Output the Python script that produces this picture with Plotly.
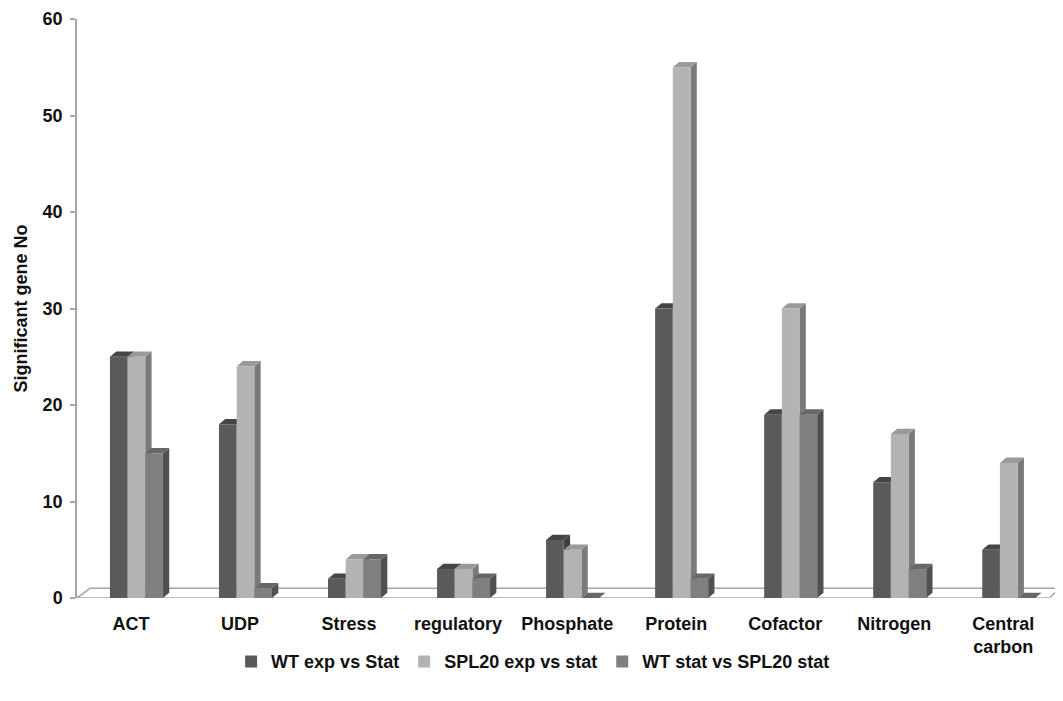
import plotly.graph_objects as go

categories = ["ACT", "UDP", "Stress", "regulatory", "Phosphate", "Protein",
              "Cofactor", "Nitrogen", "Central<br>carbon"]
series_names = ["WT exp vs Stat", "SPL20 exp vs stat", "WT stat vs SPL20 stat"]
wt_exp_vs_stat = [25, 18, 2, 3, 6, 30, 19, 12, 5]
spl20_exp_vs_stat = [25, 24, 4, 3, 5, 55, 30, 17, 14]
wt_stat_vs_spl20 = [15, 1, 4, 2, 0, 2, 19, 3, 0]
y_ticks = [0, 10, 20, 30, 40, 50, 60]

series_values = [wt_exp_vs_stat, spl20_exp_vs_stat, wt_stat_vs_spl20]
front_colors = ["#5a5a5a", "#b3b3b3", "#7f7f7f"]
side_colors = ["#3e3e3e", "#7a7a7a", "#505050"]
top_colors = ["#454545", "#9a9a9a", "#676767"]

bar_w = 0.162
offsets = [-0.193, -0.031, 0.131]
dx = 0.058   # depth in x units
dy = 0.55    # depth in y units

FONT = "Liberation Sans, Arial, sans-serif"

fig = go.Figure()
shapes = []

# floor
x_lo, x_hi = -0.495, 8.52
shapes.append(dict(type="path", xref="x", yref="y", layer="below",
                   path=f"M {x_lo},0 L {x_hi-0.1},0 L {x_hi},1.0 L {x_lo+0.12},1.0 Z",
                   fillcolor="white", line=dict(color="#a6a6a6", width=1.5)))

for s, (name, vals) in enumerate(zip(series_names, series_values)):
    xs = [i + offsets[s] + bar_w / 2 for i in range(len(categories))]
    fig.add_trace(go.Bar(
        x=xs, y=vals, width=bar_w, name=name,
        marker=dict(color=front_colors[s], line=dict(width=0)),
    ))
    for i, v in enumerate(vals):
        xl = i + offsets[s]
        xr = xl + bar_w
        shapes.append(dict(type="path", xref="x", yref="y", layer="below",
                           path=f"M {xr},0 L {xr+dx},{dy} L {xr+dx},{v+dy} L {xr},{v} Z",
                           fillcolor=side_colors[s], line=dict(width=0)))
        shapes.append(dict(type="path", xref="x", yref="y", layer="below",
                           path=f"M {xl},{v} L {xl+dx},{v+dy} L {xr+dx},{v+dy} L {xr},{v} Z",
                           fillcolor=top_colors[s], line=dict(width=0)))

fig.update_layout(
    width=1063, height=701,
    margin=dict(l=69, r=11, t=11, b=111),
    paper_bgcolor="white", plot_bgcolor="white",
    barmode="overlay",
    shapes=shapes,
    font=dict(family=FONT, size=18, color="black"),
    xaxis=dict(range=[x_lo, x_hi], tickmode="array",
               tickvals=list(range(len(categories))), ticktext=categories,
               showgrid=False, zeroline=False, showline=False, ticks="",
               automargin=False,
               tickfont=dict(family=FONT, size=18, color="#111111", weight="bold"),
               ticklabelstandoff=13),
    yaxis=dict(range=[0, 60], tickmode="array", tickvals=y_ticks,
               showgrid=False, zeroline=False, showline=True,
               linecolor="#a6a6a6", linewidth=1.5,
               ticks="outside", ticklen=5, tickcolor="#a6a6a6", tickwidth=1.5,
               automargin=False,
               tickfont=dict(family=FONT, size=18, color="#111111", weight="bold"),
               ticklabelstandoff=4, ticklabeloverflow="allow",
               title=dict(text="Significant gene No", standoff=10,
                          font=dict(family=FONT, size=18, color="#111111", weight="bold"))),
    legend=dict(orientation="h", x=0.464, xanchor="center", y=-0.11, yanchor="middle",
                font=dict(family=FONT, size=18, color="#111111", weight="bold"),
                itemwidth=30, traceorder="normal"),
    showlegend=True,
)

fig.write_html("out.html")
